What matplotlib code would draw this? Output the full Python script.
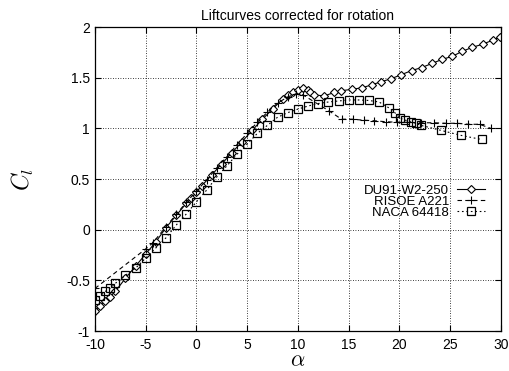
import matplotlib
matplotlib.use("Agg")
import matplotlib.pyplot as plt

plt.rcParams['font.family'] = ['Liberation Sans', 'DejaVu Sans']
plt.rcParams['mathtext.fontset'] = 'cm'

# DU91-W2-250
alpha_du = [-10, -9.5, -9, -8.5, -8, -7, -6, -5, -4, -3, -2, -1, -0.5, 0, 0.5, 1.5, 2.5, 3.5,
            4.5, 5.5, 6.5, 7.5, 8.5, 9, 9.5, 10, 10.5, 11, 11.2, 11.6, 12.6, 13.6, 14.2, 15.3,
            16.3, 17.3, 18.2, 19.2, 20.2, 21.2, 22.2, 23.2, 24.2, 25.2, 26.2, 27.2, 28.2, 29.2, 29.9]
cl_du = [-0.80, -0.75, -0.70, -0.66, -0.61, -0.48, -0.36, -0.24, -0.12, 0.02, 0.14, 0.26, 0.31,
         0.37, 0.43, 0.54, 0.65, 0.76, 0.87, 0.98, 1.09, 1.19, 1.29, 1.33, 1.355, 1.38, 1.395,
         1.38, 1.36, 1.33, 1.32, 1.355, 1.37, 1.385, 1.40, 1.43, 1.46, 1.49, 1.53, 1.57, 1.60,
         1.64, 1.68, 1.71, 1.76, 1.80, 1.83, 1.87, 1.90]

# RISOE A221
alpha_ri = [-10, -5, -4.3, -3, -2, -1, 0, 1, 2, 3, 4, 5, 6, 7, 8, 9, 9.8, 10.5, 13.1, 14.3,
            15.4, 16.5, 17.5, 18.7, 19.8, 20.9, 22.1, 23.4, 24.6, 25.7, 26.8, 27.9, 29.0]
cl_ri = [-0.58, -0.19, -0.13, 0.03, 0.15, 0.27, 0.38, 0.49, 0.61, 0.72, 0.84, 0.95, 1.06, 1.16,
         1.25, 1.31, 1.34, 1.33, 1.17, 1.09, 1.09, 1.08, 1.075, 1.065, 1.06, 1.06, 1.055, 1.055,
         1.05, 1.05, 1.04, 1.04, 1.00]

# NACA 64418
alpha_na = [-10, -9.5, -9, -8.5, -8, -7, -6, -5, -4, -3, -2, -1, 0, 1, 2, 3, 4, 5, 6, 7, 8, 9,
            10, 11, 12, 13, 14, 15, 16, 17, 18, 19, 19.6, 20.1, 20.6, 21.1, 21.6, 22.1, 24.1,
            26.1, 28.1]
cl_na = [-0.695, -0.655, -0.61, -0.58, -0.53, -0.45, -0.38, -0.28, -0.18, -0.08, 0.045, 0.155,
         0.275, 0.39, 0.52, 0.63, 0.745, 0.845, 0.95, 1.03, 1.11, 1.155, 1.19, 1.22, 1.245, 1.26,
         1.27, 1.28, 1.28, 1.275, 1.26, 1.20, 1.15, 1.10, 1.08, 1.065, 1.05, 1.03, 0.98, 0.93, 0.89]

xticks = [-10, -5, 0, 5, 10, 15, 20, 25, 30]
yticks = [-1, -0.5, 0, 0.5, 1, 1.5, 2]

fig = plt.figure(figsize=(5.09, 3.71), dpi=100)
ax = fig.add_axes([0.1866, 0.1078, 0.7974, 0.8194])

ax.plot(alpha_du, cl_du, color='black', lw=0.8, linestyle='-', marker='D',
        markersize=3.8, markerfacecolor='white', markeredgewidth=0.8, label='DU91-W2-250')
ax.plot(alpha_ri, cl_ri, color='black', lw=0.8, linestyle=(0, (4, 3)), marker='+',
        markersize=5.5, markeredgewidth=0.8, label='RISOE A221')
ax.plot(alpha_na, cl_na, color='black', lw=0.8, linestyle=(0, (1.5, 2.5)), marker='s',
        markersize=5.2, markerfacecolor='none', markeredgewidth=0.9, label='NACA 64418')

ax.set_xlim(-10, 30)
ax.set_ylim(-1, 2)
ax.set_xticks(xticks)
ax.set_yticks(yticks)
ax.set_xticklabels(['%g' % v for v in xticks])
ax.set_yticklabels(['%g' % v for v in yticks])
ax.tick_params(direction='in', top=True, right=True, labelsize=10, length=4, width=0.8)
ax.tick_params(axis='x', pad=5)
ax.grid(True, color='black', linestyle=(0, (1, 2)), linewidth=0.6)
for s in ax.spines.values():
    s.set_linewidth(0.9)

ax.set_title('Liftcurves corrected for rotation', fontsize=10, pad=5)
ax.set_xlabel(r'$\alpha$', fontsize=16, labelpad=-1)
ax.set_ylabel(r'$C_l$', fontsize=17, labelpad=22)

ax.legend(loc='upper right', bbox_to_anchor=(0.96, 0.482), frameon=False, markerfirst=False,
          fontsize=9.5, handlelength=2.1, labelspacing=-0.08, borderaxespad=0, borderpad=0,
          handletextpad=0.6)

fig.savefig('out.png', dpi=100)
